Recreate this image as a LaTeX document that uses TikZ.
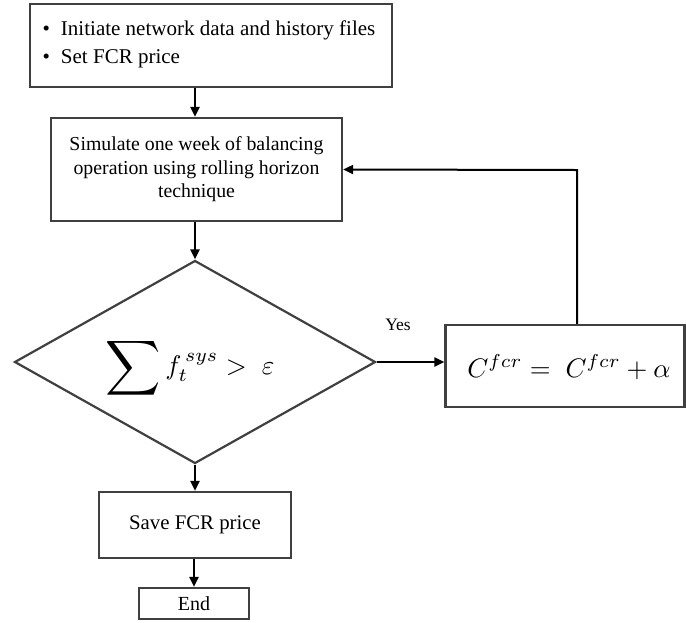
\documentclass[tikz,border=0pt]{standalone}
\usepackage{fontspec}
\setmainfont{Liberation Serif}
\usetikzlibrary{shapes.geometric,arrows.meta}
\begin{document}
\begin{tikzpicture}[x=1pt,y=-1pt,
  box/.style={draw=black!75,line width=2.2pt,inner sep=0pt,fill=white},
  arr/.style={draw=black,line width=2pt,-{Triangle[length=10pt,width=9pt]}},
  txt/.style={font=\fontsize{19.8}{23.5}\selectfont,align=center}]
\useasboundingbox (0,0) rectangle (686,622);
\node[box,minimum width=362pt,minimum height=83pt] (b1) at (211,45.5) {};
\node[font=\fontsize{21}{28}\selectfont] (t1) at (209,44)
  {\begin{tabular}{@{}l@{\hspace{11pt}}l@{}}\textbullet & Initiate network data and history files\\ \textbullet & Set FCR price\end{tabular}};
\node[box,txt,minimum width=291pt,minimum height=103pt] (b2) at (196.5,169.5)
  {Simulate one week of balancing\\operation using rolling horizon\\technique};
\node[box,diamond,minimum width=361pt,minimum height=203pt] (d) at (195,362) {};
\node[inner sep=0pt] (dt) at (190,368)
  {\scalebox{2.7}{$\vcenter{\hbox{\scalebox{1.42}{$\displaystyle\sum$}}}\, f_t^{\,sys} >\; \varepsilon$}};
\node[box,minimum width=239pt,minimum height=82pt] (r) at (565,366) {};
\node[inner sep=0pt] (rt) at (569,367)
  {\scalebox{2.68}{$C^{fcr} =\; C^{fcr} + \alpha$}};
\node[font=\fontsize{17.5}{19}\selectfont] (yes) at (398,325) {Yes};
\node[box,txt,minimum width=192pt,minimum height=66pt,font=\fontsize{20.8}{23}\selectfont] (s) at (195,525) {Save FCR price};
\node[box,txt,minimum width=110pt,minimum height=31pt,font=\fontsize{20}{22}\selectfont] (e) at (194,603.5) {End};
\coordinate (k) at (577,170);
\draw[arr] (b1.south -| d.north) -- (d.north |- b2.north);
\draw[arr] (d.north |- b2.south) -- (d.north);
\draw[arr] (d.east) -- (d.east -| r.west);
\draw[arr] (d.south) -- (d.south |- s.north);
\draw[arr] (e.north |- s.south) -- (e.north);
\draw[arr] (k |- r.north) -- (k) -- (b2.east);
\end{tikzpicture}
\end{document}
